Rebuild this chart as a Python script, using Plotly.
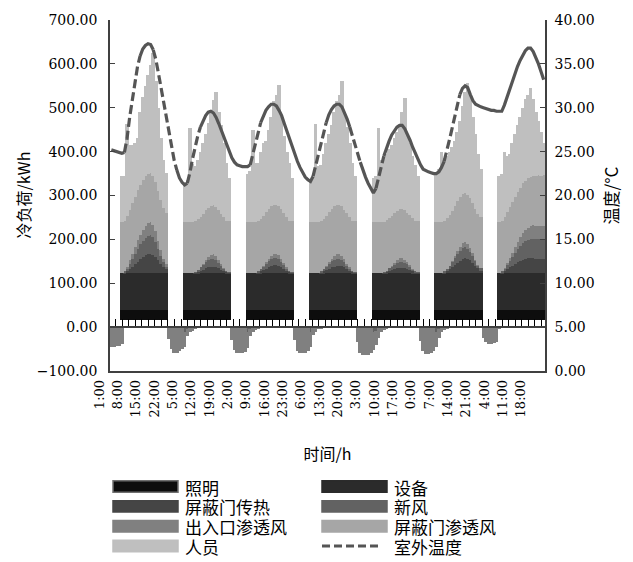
import plotly.graph_objects as go

# ---------------- data ----------------
TICK_LABELS = ["1:00", "8:00", "15:00", "22:00", "5:00", "12:00", "19:00", "2:00",
               "9:00", "16:00", "23:00", "6:00", "13:00", "20:00", "3:00", "10:00",
               "17:00", "0:00", "7:00", "14:00", "21:00", "4:00", "11:00", "18:00"]

# daily schedules, hours 0..23
LIGHT_DAY = [0, 0, 0, 0, 0, 24, 24, 24, 24, 24, 24, 24, 24, 24, 24, 24, 24, 24, 24, 24, 24, 24, 24, 0]
EQUIP_DAY = [0, 0, 0, 0, 0, 83, 83, 83, 83, 83, 83, 83, 83, 83, 83, 83, 83, 83, 83, 83, 83, 83, 83, 0]
DOOR_INFIL_DAY = [0, 0, 0, 0, 0, 116, 116, 117, 116, 115, 115, 114, 114, 113, 113, 112, 112, 112,
                  113, 114, 115, 115, 116, 0]

# per-day values, hours 0..23 (day 1 .. day 7)
DOOR_HEAT = [
    [0, 0, 0, 0, 0, 0, 2, 5, 10, 15, 20, 26, 32, 37, 41, 43, 44, 42, 37, 30, 22, 15, 10, 0],
    [0, 0, 0, 0, 0, 0, 0, 0, 0, 1, 3, 5, 8, 11, 13, 15, 15, 14, 11, 8, 5, 3, 1, 0],
    [0, 0, 0, 0, 0, 0, 0, 0, 0, 2, 4, 7, 10, 13, 16, 18, 18, 17, 14, 10, 6, 3, 1, 0],
    [0, 0, 0, 0, 0, 0, 0, 0, 0, 2, 4, 7, 10, 13, 15, 17, 17, 16, 13, 9, 6, 3, 1, 0],
    [0, 0, 0, 0, 0, 0, 0, 0, 0, 1, 3, 5, 7, 9, 11, 12, 12, 11, 9, 7, 4, 2, 1, 0],
    [0, 0, 0, 0, 0, 0, 0, 0, 2, 5, 9, 14, 19, 24, 28, 32, 34, 33, 29, 23, 17, 11, 7, 0],
    [0, 0, 0, 0, 0, 0, 2, 5, 9, 13, 17, 21, 25, 28, 31, 33, 34, 34, 34, 33, 33, 32, 32, 0],
]
FRESH_AIR = [
    [0, 0, 0, 0, 0, 0, 2, 6, 12, 18, 24, 30, 34, 37, 40, 42, 42, 40, 34, 26, 18, 11, 6, 0],
    [0, 0, 0, 0, 0, -12, -5, 0, 0, 2, 5, 8, 11, 14, 16, 18, 18, 16, 13, 9, 5, 2, 1, 0],
    [0, 0, 0, 0, 0, -10, -4, 0, 0, 2, 5, 8, 11, 14, 16, 16, 16, 15, 12, 9, 5, 2, 1, 0],
    [0, 0, 0, 0, 0, -10, -3, 0, 0, 2, 5, 8, 11, 14, 16, 16, 16, 15, 12, 9, 5, 2, 1, 0],
    [0, 0, 0, 0, 0, -12, -8, -3, 0, 1, 3, 6, 8, 10, 12, 14, 14, 13, 11, 8, 5, 2, 1, 0],
    [0, 0, 0, 0, 0, -10, -5, 0, 2, 5, 8, 12, 16, 20, 23, 25, 25, 23, 20, 16, 11, 7, 4, 0],
    [0, 0, 0, 0, 0, 0, 2, 5, 9, 14, 19, 24, 29, 33, 37, 40, 42, 44, 45, 45, 45, 45, 45, 0],
]
ENTRANCE = [
    [-45, -45, -45, -43, -42, -38, 0, 3, 7, 11, 15, 19, 22, 25, 27, 29, 30, 28, 24, 18, 12, 7, 4, -28],
    [-50, -58, -58, -55, -50, -33, -15, -10, -8, -5, -2, 0, 2, 5, 7, 9, 10, 9, 7, 4, 2, 0, 0, -30],
    [-52, -58, -60, -60, -57, -38, -16, -12, -6, -3, 0, 2, 4, 6, 8, 10, 10, 9, 7, 4, 2, 0, 0, -30],
    [-55, -60, -60, -58, -55, -35, -15, -10, -5, -3, -1, 2, 4, 6, 8, 10, 10, 9, 7, 4, 2, 0, 0, -35],
    [-60, -64, -64, -63, -60, -40, -32, -22, -12, -6, -3, 0, 2, 4, 6, 8, 8, 7, 5, 3, 1, 0, 0, -32],
    [-55, -62, -62, -60, -55, -35, -20, -12, -6, -3, 0, 2, 4, 7, 9, 11, 12, 11, 9, 6, 3, 1, 0, -25],
    [-35, -38, -38, -36, -33, -5, 0, 2, 5, 8, 11, 15, 18, 21, 24, 26, 28, 29, 30, 30, 30, 30, 30, 0],
]
PEOPLE = [
    [0, 0, 0, 0, 0, 106, 102, 208, 148, 134, 123, 118, 166, 190, 206, 226, 247, 280, 229, 189, 140, 109, 93, 0],
    [0, 0, 0, 0, 0, 91, 96, 213, 133, 126, 134, 150, 162, 174, 193, 219, 240, 262, 223, 202, 170, 132, 99, 0],
    [0, 0, 0, 0, 0, 111, 116, 209, 136, 133, 153, 166, 163, 180, 204, 236, 251, 276, 211, 175, 149, 132, 99, 0],
    [0, 0, 0, 0, 0, 96, 101, 222, 129, 128, 148, 166, 178, 191, 215, 237, 250, 287, 222, 197, 169, 132, 104, 0],
    [0, 0, 0, 0, 0, 101, 106, 213, 141, 145, 151, 157, 161, 171, 180, 191, 221, 256, 179, 165, 142, 128, 104, 0],
    [0, 0, 0, 0, 0, 111, 121, 160, 142, 142, 145, 145, 149, 158, 174, 202, 229, 254, 236, 198, 171, 138, 110, 0],
    [0, 0, 0, 0, 0, 106, 107, 148, 128, 122, 135, 143, 151, 162, 172, 186, 191, 203, 175, 145, 124, 100, 74, 0],
]
# outdoor temperature, one value per hour from 1:00 (day 1) to 22:00 (day 7)
TEMP = [
    25.2, 25.1, 25.0, 24.9, 24.8, 24.9, 26.5, 28.9, 31.0, 33.0,
    34.7, 35.9, 36.7, 37.1, 37.3, 37.2, 36.6, 35.5, 33.9, 32.2,
    30.4, 28.7, 27.0, 25.4, 24.0, 22.9, 22.0, 21.5, 21.2, 21.4,
    22.6, 24.2, 25.6, 26.8, 27.8, 28.5, 29.1, 29.5, 29.6, 29.4,
    28.9, 28.2, 27.4, 26.6, 25.8, 25.0, 24.3, 23.8, 23.5, 23.4,
    23.3, 23.3, 23.3, 23.5, 24.7, 26.1, 27.3, 28.3, 29.1, 29.7,
    30.1, 30.4, 30.4, 30.2, 29.7, 29.1, 28.2, 27.3, 26.4, 25.5,
    24.7, 23.9, 23.2, 22.6, 22.1, 21.8, 21.6, 22.2, 23.4, 24.8,
    26.1, 27.3, 28.3, 29.2, 29.8, 30.2, 30.4, 30.4, 30.1, 29.5,
    28.7, 27.8, 26.8, 25.8, 24.8, 23.8, 22.9, 22.1, 21.4, 20.8,
    20.3, 20.8, 22.0, 23.4, 24.5, 25.4, 26.2, 26.9, 27.4, 27.8,
    28.0, 28.0, 27.6, 27.0, 26.3, 25.5, 24.8, 24.1, 23.5, 23.0,
    22.8, 22.7, 22.6, 22.5, 22.5, 22.7, 23.2, 23.9, 25.0, 26.3,
    27.6, 28.9, 30.3, 31.5, 32.2, 32.5, 32.3, 31.5, 30.8, 30.4,
    30.2, 30.1, 30.0, 29.9, 29.8, 29.7, 29.7, 29.6, 29.6, 29.6,
    30.3, 31.2, 32.1, 33.0, 33.9, 34.7, 35.4, 36.0, 36.5, 36.8,
    36.8, 36.4, 35.8, 35.0, 34.1, 33.2,
]

N_DAYS = 7


def series(days):
    flat = [v for d in days for v in d]
    return flat[1:len(flat) - 1]          # 1:00 of day 1 ... 22:00 of day 7


light = series([LIGHT_DAY] * N_DAYS)
equip = series([EQUIP_DAY] * N_DAYS)
door_heat = series(DOOR_HEAT)
fresh = series(FRESH_AIR)
entrance = series(ENTRANCE)
door_infil = series([DOOR_INFIL_DAY] * N_DAYS)
people = series(PEOPLE)
N = len(light)
X = list(range(N))

# ---------------- style ----------------
FONT = "DejaVu Serif, Noto Sans CJK SC"
CJK = "Noto Sans CJK SC, DejaVu Serif"
LINE_COL = "#555555"
SPACER = 16      # white strip between the zero axis and the first stacked band
BAR_W = 1.35     # slightly overlapping columns so no seams show between adjacent hours

BARS = [
    ("照明", light, "#0d0d0d"),
    ("设备", equip, "#2b2b2b"),
    ("屏蔽门传热", door_heat, "#454545"),
    ("新风", fresh, "#626262"),
    ("出入口渗透风", entrance, "#808080"),
    ("屏蔽门渗透风", door_infil, "#a6a6a6"),
    ("人员", people, "#bfbfbf"),
]

fig = go.Figure()
fig.add_trace(go.Bar(x=X, y=[SPACER if v > 0 else 0 for v in light], width=BAR_W,
                     marker=dict(color="white", line=dict(width=0)),
                     showlegend=False, hoverinfo="skip"))
for name, vals, col in BARS:
    fig.add_trace(go.Bar(x=X, y=vals, name=name, width=BAR_W,
                         marker=dict(color=col, line=dict(width=0)), showlegend=False))

# temperature: Excel-like rendering - dashed look on steep parts, solid on flat parts
styles = [abs(TEMP[i + 1] - TEMP[i]) > 0.95 for i in range(N - 1)]
runs = {True: ([], []), False: ([], [])}
start = 0
for i in range(1, N):
    if i == N - 1 or styles[i] != styles[start]:
        xs, ys = runs[styles[start]]
        xs.extend(X[start:i + 1] + [None])
        ys.extend(TEMP[start:i + 1] + [None])
        start = i
for dashed, (xs, ys) in runs.items():
    fig.add_trace(go.Scatter(x=xs, y=ys, mode="lines", xaxis="x2", yaxis="y2", name="室外温度",
                             line=dict(color=LINE_COL, width=3.2, dash="9px,4px" if dashed else "solid"),
                             connectgaps=False, showlegend=False))

# ---------------- layout ----------------
L, R, T, B = 110, 545, 17, 371
W, H = 633, 562


def px(xp):
    return (xp - L) / (R - L)


def py(yp):
    return (B - yp) / (B - T)


axis_common = dict(showgrid=False, zeroline=False, linecolor="#404040", linewidth=1.5)
fig.update_layout(
    width=W, height=H,
    margin=dict(l=L, r=W - R, t=T, b=H - B),
    paper_bgcolor="white", plot_bgcolor="white",
    barmode="relative", bargap=0, showlegend=False,
    font=dict(family=FONT, size=14, color="#000"),
    xaxis=dict(range=[-0.5, N - 0.5], tickvals=X[::7], ticktext=TICK_LABELS, tickangle=-90,
               showline=True, ticks="", tickfont=dict(size=13), ticklabelshift=-12,
               ticklabelstandoff=2,
               title=dict(text="时间/h", standoff=32, font=dict(family=CJK, size=16)),
               **axis_common),
    xaxis2=dict(overlaying="x", anchor="free", position=100 / 800, range=[-0.5, N - 0.5],
                showline=True, ticks="inside", ticklen=7, tickwidth=1.2, tickcolor="#000",
                tick0=1.6, dtick=2.5, showticklabels=False, **axis_common),
    yaxis=dict(range=[-100, 700], dtick=100, tickformat=".2f", ticks="inside", ticklen=5,
               tickcolor="#404040", showline=True, ticklabelstandoff=8, **axis_common),
    yaxis2=dict(overlaying="y", side="right", range=[0, 40], dtick=5, tickformat=".2f",
                ticks="inside", ticklen=5, tickcolor="#404040", showline=True, ticklabelstandoff=5,
                **axis_common),
)

annos = [
    dict(text="冷负荷/kWh", xref="paper", yref="paper", x=px(22), y=py(194), textangle=-90,
         xanchor="center", yanchor="middle", showarrow=False, font=dict(family=CJK, size=16)),
    dict(text="温度/°C", xref="paper", yref="paper", x=px(610), y=py(194), textangle=-90,
         xanchor="center", yanchor="middle", showarrow=False, font=dict(family=CJK, size=17)),
]

# legend (two columns of wide swatches, as in the reference)
LEG_COLS = [113, 322]
LEG_ROWS = [487.5, 507.5, 527.5, 547.5]
SW_W, SW_H = 65, 11.5
legend_items = [(name, col) for name, _, col in BARS] + [("室外温度", None)]
shapes = []
for k, (name, col) in enumerate(legend_items):
    cx = LEG_COLS[k % 2]
    cy = LEG_ROWS[k // 2]
    if col is None:
        shapes.append(dict(type="line", xref="paper", yref="paper",
                           x0=px(cx), x1=px(cx + 58), y0=py(cy), y1=py(cy),
                           line=dict(color=LINE_COL, width=3, dash="8px,4px")))
    else:
        shapes.append(dict(type="rect", xref="paper", yref="paper",
                           x0=px(cx), x1=px(cx + SW_W), y0=py(cy - SW_H / 2), y1=py(cy + SW_H / 2),
                           fillcolor=col,
                           line=dict(color="#707070" if k == 0 else col, width=1.5)))
    annos.append(dict(text=name, xref="paper", yref="paper", x=px(cx + SW_W + 5), y=py(cy),
                      xanchor="left", yanchor="middle", showarrow=False, height=20,
                      font=dict(family=CJK, size=17, color="#000")))
fig.update_layout(shapes=shapes, annotations=annos)

fig.write_html("out.html", config={"displayModeBar": False},
               post_script="document.body.style.margin='0';")
